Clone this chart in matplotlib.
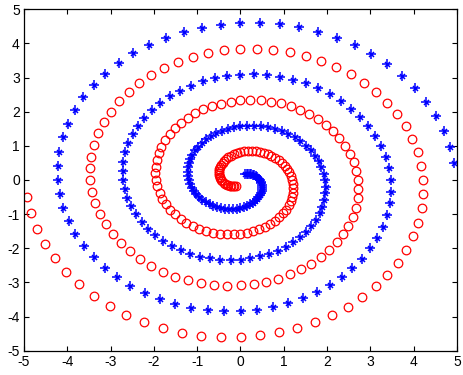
import numpy as np
import matplotlib
matplotlib.use("Agg")
import matplotlib.pyplot as plt

# ---- data -----------------------------------------------------------------
# Both arms are Archimedean spirals sampled at equal angular steps.
# The values below were measured off the reference image:
angle_step = np.pi / 32          # spacing between neighbouring markers (rad)
first_index = -26                # first marker (innermost, near the centre)
last_index = 175                 # last marker (outermost, at x = -5)
radius_at_top = 0.82             # red arm radius where it crosses +y (inner turn)
radius_growth = 0.2406           # radius gained per radian (~1.51 per turn)

# red arm, angle measured clockwise from +y
red_index = np.arange(first_index, last_index + 1)
red_theta = red_index * angle_step
red_r = radius_at_top + radius_growth * red_theta
red_x = red_r * np.sin(red_theta)
red_y = red_r * np.cos(red_theta)

# blue arm is the point reflection of the red one
blue_x = -red_x
blue_y = -red_y

x_ticks = [-5, -4, -3, -2, -1, 0, 1, 2, 3, 4, 5]
y_ticks = [-5, -4, -3, -2, -1, 0, 1, 2, 3, 4, 5]

# ---- figure ---------------------------------------------------------------
plt.rcParams['font.family'] = ['Liberation Sans', 'DejaVu Sans']
fig = plt.figure(figsize=(4.63, 3.75), dpi=100)
ax = fig.add_axes([24 / 463, (375 - 350.7) / 375, (457 - 24) / 463, (350.7 - 9.3) / 375])

ax.plot(red_x, red_y, linestyle='none', marker='o', markersize=6.2,
        markerfacecolor='none', markeredgecolor='#ff0000', markeredgewidth=0.9)
ax.plot(blue_x, blue_y, linestyle='none', marker='+', markersize=7,
        markeredgecolor='#0000ff', markeredgewidth=1.1)
ax.plot(blue_x, blue_y, linestyle='none', marker='x', markersize=3.6,
        markeredgecolor='#0000ff', markeredgewidth=1.1)

ax.set_xlim(-5, 5)
ax.set_ylim(-5, 5)
ax.set_xticks(x_ticks)
ax.set_yticks(y_ticks)
ax.set_xticklabels([str(t) for t in x_ticks])
ax.set_yticklabels([str(t) for t in y_ticks])
ax.tick_params(direction='in', length=3.5, width=0.8, top=True, right=True,
               labelsize=10, pad=3, colors='black')
for s in ax.spines.values():
    s.set_linewidth(0.9)
    s.set_color('black')

fig.savefig('out.png', dpi=100)
